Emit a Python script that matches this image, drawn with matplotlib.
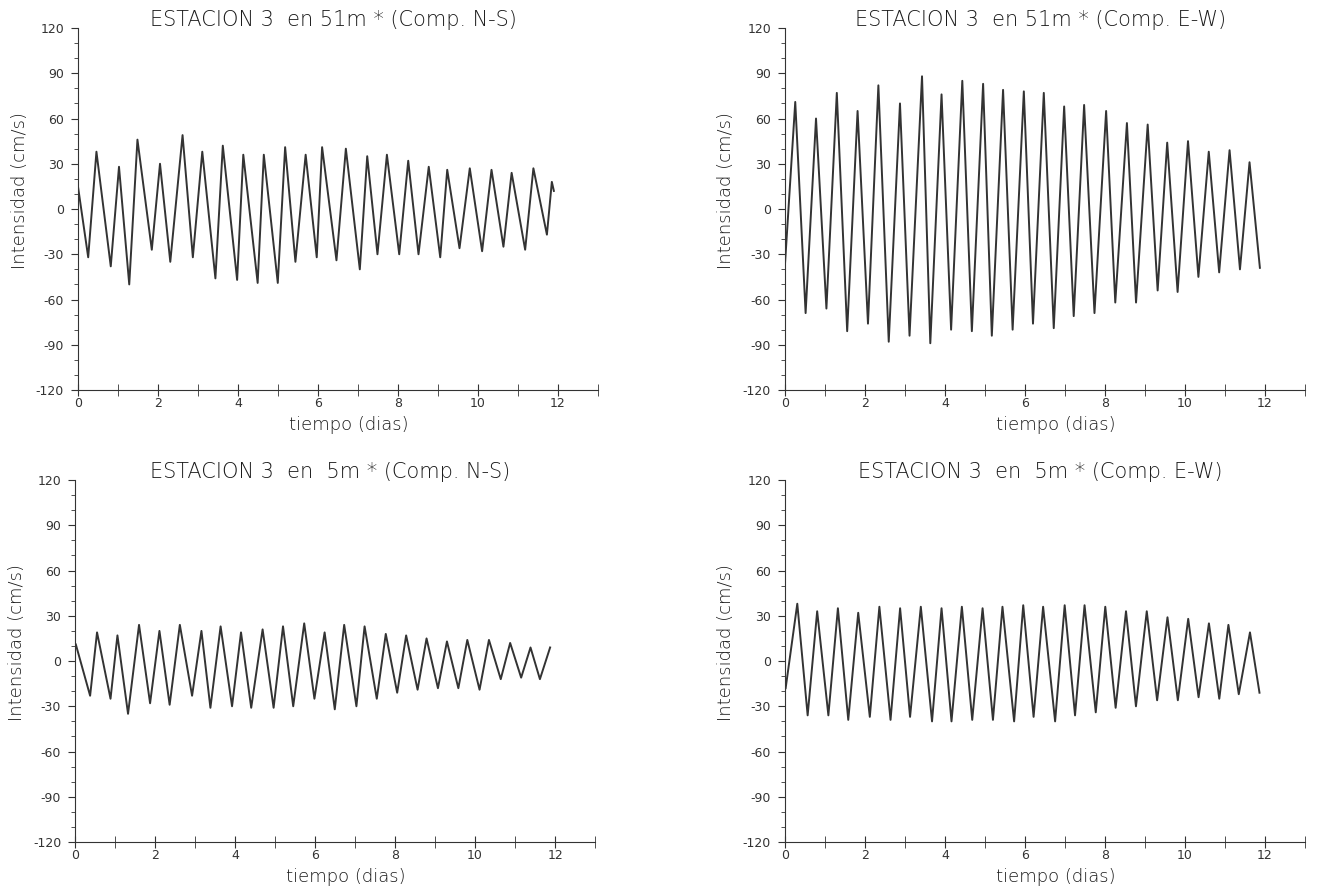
import numpy as np
import matplotlib.pyplot as plt
from matplotlib.ticker import MultipleLocator, FuncFormatter

plt.rcParams['font.family'] = ['DejaVu Sans']
plt.rcParams['axes.unicode_minus'] = False

# Estacion 3, 51 m, componente N-S (picos y valles)
t_51_ns = [0.0, 0.256, 0.462, 0.82, 1.026, 1.282, 1.487, 1.846, 2.051, 2.308, 2.615, 2.872,
           3.108, 3.436, 3.621, 3.979, 4.133, 4.492, 4.646, 4.995, 5.179, 5.436, 5.692, 5.969,
           6.103, 6.462, 6.697, 7.046, 7.231, 7.487, 7.723, 8.031, 8.256, 8.513, 8.769, 9.056,
           9.231, 9.538, 9.795, 10.103, 10.338, 10.636, 10.841, 11.179, 11.385, 11.723, 11.846, 11.897]
v_51_ns = [15, -32, 38, -38, 28, -50, 46, -27, 30, -35, 49, -32,
           38, -46, 42, -47, 36, -49, 36, -49, 41, -35, 36, -32,
           41, -34, 40, -40, 35, -30, 36, -30, 32, -30, 28, -32,
           26, -26, 27, -28, 26, -25, 24, -27, 27, -17, 18, 12]

# 51 m, componente E-W
t_51_ew = [0.0, 0.26, 0.519, 0.779, 1.039, 1.299, 1.558, 1.818, 2.078, 2.338, 2.597, 2.878,
           3.117, 3.429, 3.636, 3.917, 4.156, 4.436, 4.675, 4.956, 5.174, 5.455, 5.694, 5.974,
           6.203, 6.473, 6.722, 6.982, 7.221, 7.481, 7.740, 8.031, 8.260, 8.551, 8.779, 9.070,
           9.319, 9.558, 9.818, 10.078, 10.338, 10.597, 10.857, 11.117, 11.377, 11.616, 11.875]
v_51_ew = [-38, 71, -69, 60, -66, 77, -81, 65, -76, 82, -88, 70,
           -84, 88, -89, 76, -80, 85, -81, 83, -84, 79, -80, 78,
           -76, 77, -79, 68, -71, 69, -69, 65, -62, 57, -62, 56,
           -54, 44, -55, 45, -45, 38, -42, 39, -40, 31, -39]

# 5 m, componente N-S
t_5_ns = [0.02, 0.377, 0.55, 0.887, 1.06, 1.325, 1.6, 1.876, 2.11, 2.365, 2.62, 2.926,
          3.16, 3.384, 3.639, 3.925, 4.149, 4.404, 4.689, 4.964, 5.199, 5.454, 5.729, 5.984,
          6.239, 6.493, 6.728, 7.034, 7.238, 7.543, 7.768, 8.053, 8.277, 8.563, 8.787, 9.072,
          9.297, 9.582, 9.806, 10.112, 10.347, 10.642, 10.877, 11.152, 11.386, 11.621, 11.876]
v_5_ns = [11, -23, 19, -25, 17, -35, 24, -28, 20, -29, 24, -23,
          20, -31, 23, -30, 19, -31, 21, -31, 23, -30, 25, -25,
          19, -32, 24, -30, 23, -25, 18, -21, 17, -19, 15, -18,
          13, -18, 14, -19, 14, -12, 12, -11, 9, -12, 9]

# 5 m, componente E-W
t_5_ew = [0.02, 0.311, 0.57, 0.808, 1.088, 1.326, 1.585, 1.834, 2.124, 2.363, 2.642, 2.881,
          3.130, 3.399, 3.679, 3.917, 4.166, 4.425, 4.684, 4.943, 5.202, 5.440, 5.731, 5.959,
          6.218, 6.456, 6.756, 6.995, 7.254, 7.492, 7.772, 8.010, 8.269, 8.528, 8.777, 9.047,
          9.306, 9.565, 9.824, 10.083, 10.342, 10.601, 10.860, 11.088, 11.347, 11.627, 11.865]
v_5_ew = [-18, 38, -36, 33, -36, 35, -39, 32, -37, 36, -39, 35,
          -37, 36, -40, 35, -40, 36, -39, 35, -39, 36, -40, 37,
          -37, 36, -40, 37, -36, 37, -34, 36, -31, 33, -30, 33,
          -26, 29, -26, 28, -24, 25, -25, 24, -22, 19, -21]

titles = ["ESTACION 3  en 51m * (Comp. N-S)",
          "ESTACION 3  en 51m * (Comp. E-W)",
          "ESTACION 3  en  5m * (Comp. N-S)",
          "ESTACION 3  en  5m * (Comp. E-W)"]
series = [(t_51_ns, v_51_ns), (t_51_ew, v_51_ew), (t_5_ns, v_5_ns), (t_5_ew, v_5_ew)]

# posiciones de los ejes [izq, abajo, ancho, alto]
pos = [[0.0587, 0.5618, 0.3916, 0.4067],
       [0.591, 0.5618, 0.3916, 0.4067],
       [0.0565, 0.0539, 0.3916, 0.4067],
       [0.591, 0.0539, 0.3916, 0.4067]]

col = "#333333"
tcol = "#1a1a1a"
fig = plt.figure(figsize=(13.28, 8.9), dpi=100)

for i in range(4):
    ax = fig.add_axes(pos[i])
    t, v = series[i]
    ax.plot(t, v, color=col, lw=1.4)
    ax.set_xlim(0, 13)
    ax.set_ylim(-120, 120)
    ax.spines['top'].set_visible(False)
    ax.spines['right'].set_visible(False)
    ax.spines['left'].set_color(col)
    ax.spines['bottom'].set_color(col)
    ax.xaxis.set_major_locator(MultipleLocator(2))
    ax.xaxis.set_minor_locator(MultipleLocator(1))
    ax.yaxis.set_major_locator(MultipleLocator(30))
    ax.yaxis.set_minor_locator(MultipleLocator(10))
    ax.xaxis.set_major_formatter(FuncFormatter(lambda x, p: "%d" % x if x <= 12 else ""))
    ax.tick_params(axis='x', which='both', direction='inout', length=8, color=col,
                   labelsize=9, pad=1, labelcolor=col)
    ax.tick_params(axis='y', which='major', direction='out', length=5, color=col,
                   labelsize=9, pad=5, labelcolor=col)
    ax.tick_params(axis='y', which='minor', direction='out', length=3, color=col)
    ax.set_xlabel("tiempo (dias)", fontsize=13, color=tcol, fontweight='light')
    ax.xaxis.set_label_coords(0.52, -0.072)
    ax.set_ylabel("Intensidad (cm/s)", fontsize=13, color=tcol, fontweight='light')
    ax.yaxis.set_label_coords(-0.095, 0.55)
    ax.text(0.491, 1.022, titles[i], transform=ax.transAxes, ha='center', va='center',
            fontsize=15, color=tcol, fontweight='light')

plt.savefig("out.png", dpi=100)
